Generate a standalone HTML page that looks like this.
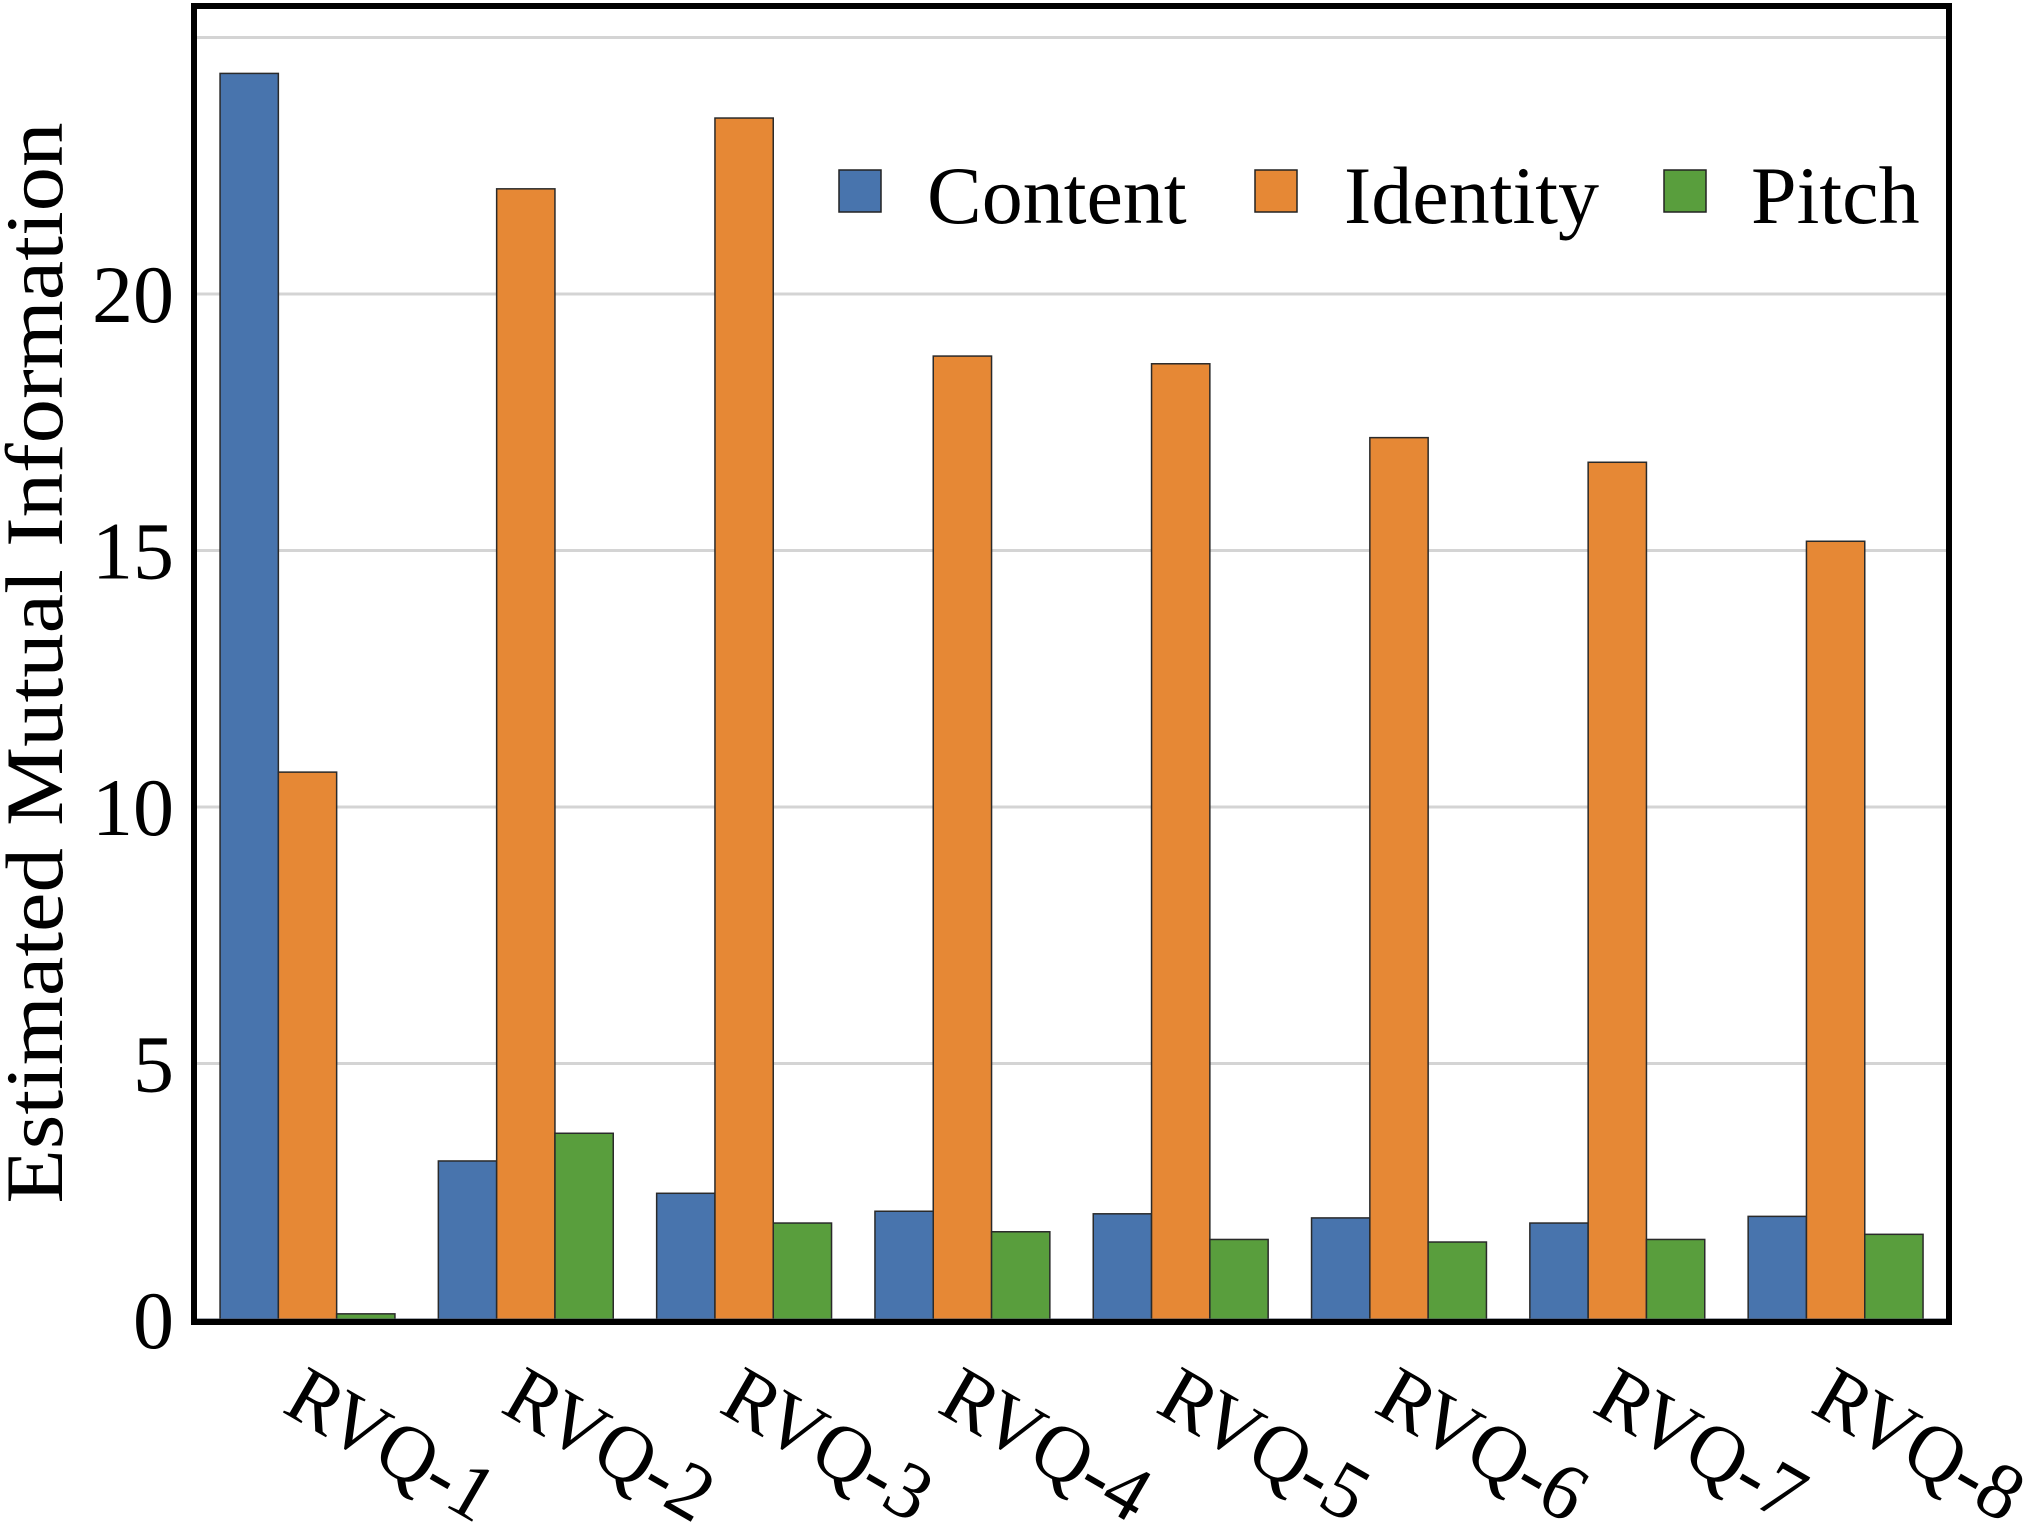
<!DOCTYPE html>
<html><head><meta charset="utf-8"><style>
html,body{margin:0;padding:0;background:#fff;}
svg{display:block;font-family:"Liberation Serif",serif;}
</style></head><body>
<svg id="chart" width="2025" height="1525" viewBox="0 0 2025 1525" xmlns="http://www.w3.org/2000/svg">
<g id="grid"></g>
<g id="bars"></g>
<line x1="194" y1="1320" x2="1949" y2="1320" stroke="#4a5160" stroke-width="3"/>
<rect x="194" y="6" width="1755" height="1316" fill="none" stroke="#000" stroke-width="6"/>
<g id="yticks"></g>
<g id="xticks"></g>
<text transform="translate(62,663) rotate(-90)" text-anchor="middle" font-size="82" textLength="1081" lengthAdjust="spacingAndGlyphs">Estimated Mutual Information</text>
<g>
  <g>
    <rect x="839" y="170" width="42" height="42" fill="#4874ad" stroke="#222" stroke-width="1.5"/>
    <text x="927" y="223" font-size="82">Content</text>
  </g>
  <g>
    <rect x="1255" y="170" width="42" height="42" fill="#e68835" stroke="#222" stroke-width="1.5"/>
    <text x="1344" y="223" font-size="82">Identity</text>
  </g>
  <g>
    <rect x="1664" y="170" width="42" height="42" fill="#599e3d" stroke="#222" stroke-width="1.5"/>
    <text x="1751" y="223" font-size="82">Pitch</text>
  </g>
</g>
</svg>
<script>
const categories = ["RVQ-1","RVQ-2","RVQ-3","RVQ-4","RVQ-5","RVQ-6","RVQ-7","RVQ-8"];
const contentValues = [24.3, 3.1, 2.47, 2.12, 2.07, 1.99, 1.89, 2.02];
const identityValues = [10.68, 22.05, 23.43, 18.79, 18.64, 17.2, 16.72, 15.18];
const pitchValues = [0.12, 3.64, 1.89, 1.72, 1.57, 1.52, 1.57, 1.67];
const yTicks = [0, 5, 10, 15, 20, 25];
const yTickLabels = ["0", "5", "10", "15", "20", ""];

const NS = "http://www.w3.org/2000/svg";
const X0 = 194, X1 = 1949, Y0 = 1320, PER = 51.3;
const spacing = 218.3;
const barW = 58.3;
function yScale(v){ return Y0 - v * PER; }
function xCenter(i){ return 307.5 + spacing * i; }

const grid = document.getElementById('grid');
const yt = document.getElementById('yticks');
yTicks.forEach((t, k) => {
  const l = document.createElementNS(NS, 'line');
  
  
  l.setAttribute('x1', X0); l.setAttribute('x2', X1);
  l.setAttribute('y1', yScale(t)); l.setAttribute('y2', yScale(t));
  l.setAttribute('stroke', '#d4d4d4'); l.setAttribute('stroke-width', '3');
  grid.appendChild(l);
  if (yTickLabels[k]) {
    const tx = document.createElementNS(NS, 'text');
    
    
    tx.setAttribute('x', 174); tx.setAttribute('y', yScale(t) + 28);
    tx.setAttribute('text-anchor', 'end'); tx.setAttribute('font-size', '82');
    tx.textContent = yTickLabels[k];
    yt.appendChild(tx);
  }
});

const series = [
  {vals: contentValues, color: '#4874ad', name: 'content'},
  {vals: identityValues, color: '#e68835', name: 'identity'},
  {vals: pitchValues, color: '#599e3d', name: 'pitch'}
];
const bars = document.getElementById('bars');
categories.forEach((c, i) => {
  series.forEach((s, j) => {
    const r = document.createElementNS(NS, 'rect');
    
    
    const x = xCenter(i) + (j - 1.5) * barW;
    const y = yScale(s.vals[i]);
    r.setAttribute('x', x); r.setAttribute('y', y);
    r.setAttribute('width', barW); r.setAttribute('height', Y0 - y);
    r.setAttribute('fill', s.color); r.setAttribute('stroke', '#2a2a2a'); r.setAttribute('stroke-width', '1.5');
    bars.appendChild(r);
  });
});

const xt = document.getElementById('xticks');
categories.forEach((c, i) => {
  const t = document.createElementNS(NS, 'text');
  
  
  const x = xCenter(i) - 27, y = 1411;
  t.setAttribute('transform', 'translate(' + x + ',' + y + ') rotate(30)');
  t.setAttribute('font-size', '80');
  t.setAttribute('textLength', '226');
  t.setAttribute('lengthAdjust', 'spacingAndGlyphs');
  t.textContent = c;
  xt.appendChild(t);
});
</script>
</body></html>
